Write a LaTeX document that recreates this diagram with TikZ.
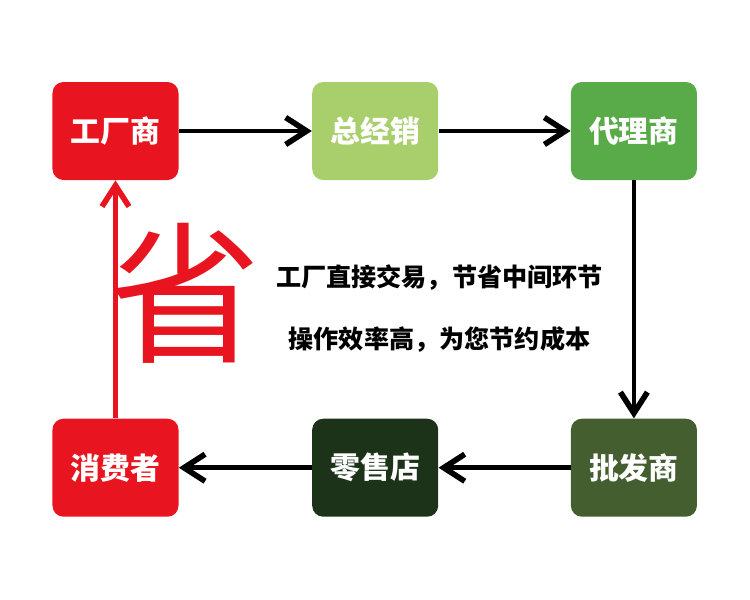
\documentclass[tikz,border=0pt]{standalone}
\usepackage{fontspec}
\newfontfamily\cjk{Noto Sans CJK SC}
\usepackage{tikz}
\usetikzlibrary{positioning}
\usetikzlibrary{arrows.meta}

\definecolor{rosso}{HTML}{E8141F}
\definecolor{verdechiaro}{HTML}{A9CF6C}
\definecolor{verde}{HTML}{58AB48}
\definecolor{verdescuro}{HTML}{445E30}
\definecolor{verdenotte}{HTML}{1C3319}

\begin{document}
\begin{tikzpicture}[
    box/.style={rounded corners=0.22cm, minimum width=2.52cm, minimum height=1.96cm,
                inner sep=0pt, text=white, font=\cjk\bfseries\fontsize{17pt}{19pt}\selectfont},
    testo/.style={inner sep=0pt, font=\cjk\bfseries\fontsize{14.3pt}{16pt}\selectfont},
    freccia/.style={-{Straight Barb[length=4.2mm, width=5.4mm, line width=3.2pt]}, line width=2.7pt},
    frecciarossa/.style={freccia, line width=2.4pt, draw=rosso}]
    \useasboundingbox (0,0) rectangle (15,-12);

    % Riga superiore
    \node [box, fill=rosso] (fabbrica) at (2.31,-2.62) {工厂商};
    \node [box, fill=verdechiaro, right=2.66cm of fabbrica] (distributore) {总经销};
    \node [box, fill=verde, right=2.64cm of distributore] (agente) {代理商};

    % Riga inferiore
    \node [box, fill=verdescuro, below=4.76cm of agente] (grossista) {批发商};
    \node [box, fill=verdenotte, left=2.64cm of grossista] (negozio) {零售店};
    \node [box, fill=rosso, left=2.66cm of negozio] (cliente) {消费者};

    % Testo centrale
    \node [text=rosso, font=\cjk\fontsize{87pt}{87pt}\selectfont, inner sep=0pt] (sheng) at (3.7,-5.86) {省};
    \node [testo] (riga1) at (8.79,-5.56) {工厂直接交易，节省中间环节};
    \node [testo, below=0.7cm of riga1] (riga2) {操作效率高，为您节约成本};

    % Frecce
    \draw [freccia] (fabbrica) -- (distributore);
    \draw [freccia] (distributore) -- (agente);
    \draw [freccia] (agente) -- (grossista);
    \draw [freccia] (grossista) -- (negozio);
    \draw [freccia] (negozio) -- (cliente);
    \draw [frecciarossa] (cliente) -- (fabbrica);
\end{tikzpicture}
\end{document}
